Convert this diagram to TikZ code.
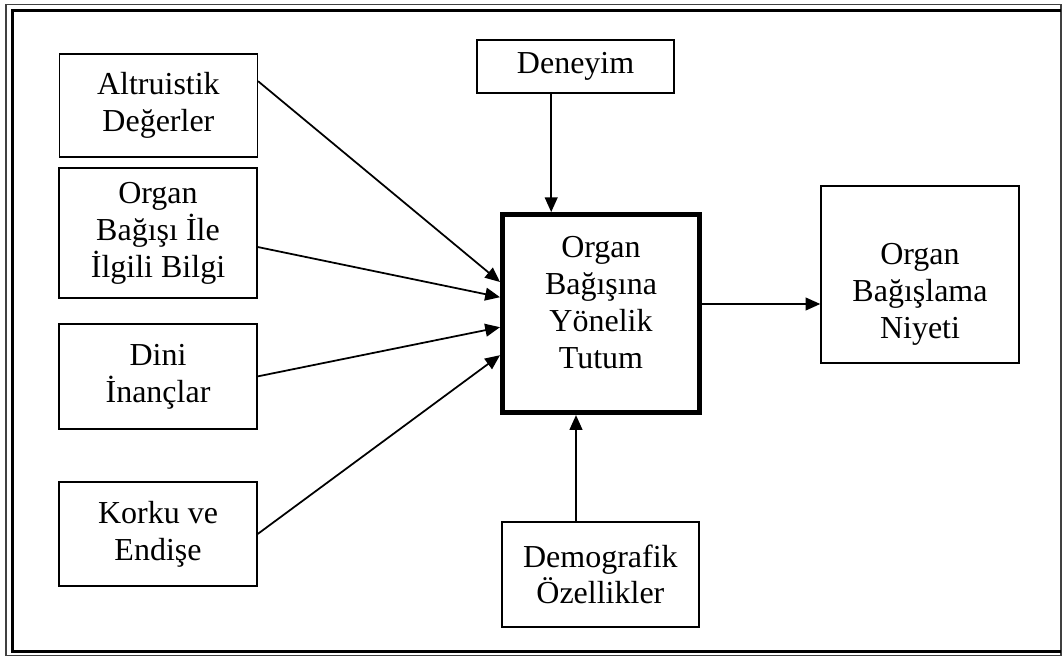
\documentclass[tikz,border=0pt]{standalone}
\usepackage{fontspec}
\setmainfont{Liberation Serif}
\usetikzlibrary{arrows.meta}

\begin{document}
\begin{tikzpicture}[
    box/.style={draw,line width=0.95pt,align=center,minimum width=4.95cm,inner sep=2pt,
        font=\fontsize{22.76}{26.3}\selectfont},
    arr/.style={line width=1.25pt,-{Triangle[length=0.37cm,width=0.32cm]}}
    ]
    \useasboundingbox (0,0) rectangle (26.6,-16.425);
    % cerceve
    \draw[line width=1.1pt,black!75] (0.15,-0.1125) rectangle (26.525,-16.3875);
    \draw[line width=2.5pt] (26.525,-0.2625) -- (0.3125,-0.2625) -- (0.3125,-16.2875) -- (26.525,-16.2875);

    \node[box,minimum height=2.575cm] (alt) at (3.96,-2.64) {Altruistik\\Değerler};
    \node[box,minimum height=3.25cm] (bilgi) at (3.95,-5.825) {Organ\\Bağışı İle\\İlgili Bilgi};
    \node[box,minimum height=2.625cm] (dini) at (3.95,-9.41) {Dini\\İnançlar};
    \node[box,minimum height=2.6cm] (korku) at (3.95,-13.35) {Korku ve\\Endişe};
    \node[box,minimum width=4.925cm,minimum height=1.325cm] (deneyim) at (14.39,-1.66) {Deneyim};
    \node[box,line width=0.125cm,minimum width=4.925cm,minimum height=4.95cm] (tutum) at (15.025,-7.84)
        {Organ\\Bağışına\\Yönelik\\Tutum\rule[-0.57cm]{0pt}{0pt}};
    \node[box,minimum height=4.425cm] (niyeti) at (23.0,-6.86) {\rule{0pt}{1.55cm}Organ\\Bağışlama\\Niyeti};
    \node[box,minimum width=4.925cm,minimum height=2.625cm] (demog) at (15.01,-14.36) {Demografik\\Özellikler};

    \foreach \n/\a/\b in {alt/0.61/0.79, bilgi/-0.35/0.41, dini/0/-0.34, korku/0/-1.04}{
        \draw[arr] ([yshift=\a cm]\n.east) -- ([yshift=\b cm]tutum.west);
    }
    \draw[arr] ([xshift=-0.61cm]deneyim.south) -- ([xshift=-0.61cm]deneyim.south |- tutum.north);
    \draw[arr] ([xshift=-0.61cm]demog.north) -- ([xshift=-0.61cm]demog.north |- tutum.south);
    \draw[arr] ([yshift=0.24cm]tutum.east) -- ([yshift=0.24cm]tutum.east -| niyeti.west);
\end{tikzpicture}
\end{document}
